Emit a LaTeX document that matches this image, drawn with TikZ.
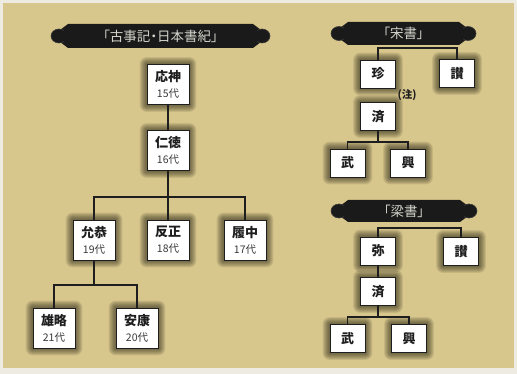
\documentclass[tikz,border=0pt]{standalone}
\usepackage{fontspec}
\setmainfont{Noto Sans CJK JP}
\newfontfamily\jpprop[RawFeature={+palt}]{Noto Sans CJK JP}
\pgfdeclarelayer{background}
\pgfsetlayers{background,main}
\definecolor{parch}{HTML}{D8C78C}
\definecolor{edgepaper}{HTML}{EEEBE2}
\definecolor{inkc}{HTML}{1E1E1E}
\definecolor{bannerc}{HTML}{1A1A1A}
\definecolor{bantext}{HTML}{D4D4CC}
\definecolor{gentext}{HTML}{3A3A3A}
\definecolor{haloc}{HTML}{2A2616}
\newcommand\kname[1]{{\fontsize{13}{16}\selectfont\bfseries #1}}
\newcommand\kgen[1]{{\fontsize{10.5}{16}\selectfont\color{gentext}#1}}
\newcommand\mybanner[6]{%
  \fill[bannerc] ({#1+18},#3) -- ({#2-18},#3) -- ({#2-10},{#3+6}) -- ({#2-10},{#4-6})
     -- ({#2-18},#4) -- ({#1+18},#4) -- ({#1+10},{#4-6}) -- ({#1+10},{#3+6}) -- cycle;
  \filldraw[fill=bannerc, draw=gray!45!black, line width=0.6pt]
     ({#1+9},{(#3+#4)/2}) ellipse [x radius=8pt, y radius=7pt];
  \filldraw[fill=bannerc, draw=gray!45!black, line width=0.6pt]
     ({#2-9},{(#3+#4)/2}) ellipse [x radius=8pt, y radius=7pt];
  \fill[bannerc] ({#1+14},{#3+4}) rectangle ({#2-14},{#4-4});
  \node[bantxt] (#5) at ({(#1+#2)/2},{(#3+#4)/2}) {#6};
}
\tikzset{
  kbox/.style={draw=inkc, fill=white, line width=0.8pt, inner sep=0pt, align=center,
    text=inkc, font=\fontsize{11}{16}\selectfont},
  bigbox/.style={kbox, minimum width=42pt, minimum height=40pt},
  smallbox/.style={kbox, minimum width=35pt, minimum height=28pt},
  conn/.style={draw=inkc, line width=1.5pt},
  bantxt/.style={text=bantext, inner sep=0pt, font=\jpprop\fontsize{13.5}{14}\selectfont},
  notetxt/.style={text=inkc, inner sep=0pt, font=\fontsize{10.5}{12}\selectfont\bfseries},
  halo/.style={fill=haloc, opacity=0.11, rounded corners=#1pt},
}
\begin{document}
\begin{tikzpicture}[x=1pt,y=-1pt]
\useasboundingbox (0,0) rectangle (517,374);
\begin{pgfonlayer}{background}
\fill[edgepaper] (0,0) rectangle (517,374);
\fill[parch] (3,3) rectangle (514,368);
\end{pgfonlayer}

% banners
\mybanner{50}{271}{24}{48}{ban1}{「古事記・日本書紀」}
\mybanner{330}{477}{22}{45}{ban2}{「宋書」}
\mybanner{330}{478}{200}{222}{ban3}{「梁書」}

% left tree
\node[bigbox] (ojin) at (168,84.5) {\kname{応神}\\\kgen{15代}};
\node[bigbox] (nintoku) at (168,150.5) {\kname{仁徳}\\\kgen{16代}};
\node[bigbox] (ingyo) at (94,240) {\kname{允恭}\\\kgen{19代}};
\node[bigbox] (hanzei) at (168,240) {\kname{反正}\\\kgen{18代}};
\node[bigbox] (richu) at (245,240) {\kname{履中}\\\kgen{17代}};
\node[bigbox] (yuryaku) at (54,328) {\kname{雄略}\\\kgen{21代}};
\node[bigbox] (anko) at (137,328) {\kname{安康}\\\kgen{20代}};

% Song shu tree
\node[smallbox] (chin) at (378,74) {\kname{珍}};
\node[smallbox] (san1) at (457,73.5) {\kname{讃}};
\node[notetxt] (chu) at (407,95) {(注)};
\node[smallbox] (sai1) at (378,116.5) {\kname{済}};
\node[smallbox] (bu1) at (347.5,163) {\kname{武}};
\node[smallbox] (ko1) at (408,163) {\kname{興}};

% Liang shu tree
\node[smallbox] (mi) at (378,251) {\kname{弥}};
\node[smallbox] (san2) at (461,251.5) {\kname{讃}};
\node[smallbox] (sai2) at (378,291.5) {\kname{済}};
\node[smallbox] (bu2) at (347.5,338.5) {\kname{武}};
\node[smallbox] (ko2) at (409,338.5) {\kname{興}};

% halos behind boxes
\begin{pgfonlayer}{background}
\foreach \n in {ojin,nintoku,ingyo,hanzei,richu,yuryaku,anko,chin,san1,sai1,bu1,ko1,mi,san2,sai2,bu2,ko2}{
  \foreach \k in {1,...,7}{
    \fill[halo=\k] ([shift={(-\k pt,\k pt)}]\n.north west) rectangle ([shift={(\k pt,-\k pt)}]\n.south east);
  }
}
\end{pgfonlayer}

% connectors
\coordinate (b1) at (168,197);
\coordinate (b2) at (94,285);
\draw[conn] (ojin.south) -- (nintoku.north);
\draw[conn] (nintoku.south) -- (hanzei.north);
\draw[conn] (ingyo.north) |- (b1) -| (richu.north);
\draw[conn] (ingyo.south) -- (b2);
\draw[conn] (yuryaku.north) |- (b2) -| (anko.north);

\coordinate (s1) at (418,48);
\coordinate (s2) at (378,142);
\draw[conn] (chin.north) |- (s1) -| (san1.north);
\draw[conn] (sai1.south) -- (s2);
\draw[conn] (bu1.north) |- (s2) -| (ko1.north);

\coordinate (r1) at (420,228);
\coordinate (r2) at (378,317);
\draw[conn] (mi.north) |- (r1) -| (san2.north);
\draw[conn] (mi.south) -- (sai2.north);
\draw[conn] (sai2.south) -- (r2);
\draw[conn] (bu2.north) |- (r2) -| (ko2.north);
\end{tikzpicture}
\end{document}
